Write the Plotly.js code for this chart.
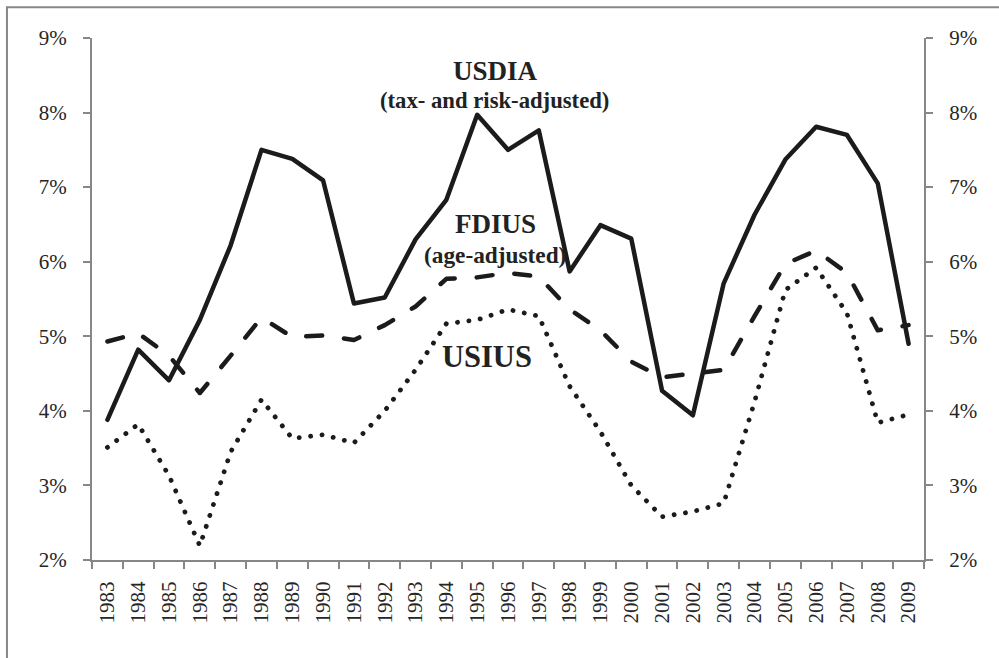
<!DOCTYPE html>
<html>
<head>
<meta charset="utf-8">
<script src="https://cdn.plot.ly/plotly-3.0.1.min.js"></script>
<style>
  html, body { margin: 0; padding: 0; background: #fff; }
  #chart { width: 999px; height: 658px; }
  .js-line { stroke-linecap: round; stroke-linejoin: round; }
</style>
</head>
<body>
<div id="chart"></div>
<script>
// ---- data ----
const years = ["1983","1984","1985","1986","1987","1988","1989","1990","1991","1992","1993","1994","1995",
               "1996","1997","1998","1999","2000","2001","2002","2003","2004","2005","2006","2007","2008","2009"];
// USDIA (tax- and risk-adjusted), percent
const usdia = [3.88, 4.82, 4.41, 5.22, 6.22, 7.50, 7.38, 7.09, 5.44, 5.52, 6.30, 6.83, 7.97,
               7.50, 7.76, 5.87, 6.49, 6.31, 4.27, 3.94, 5.71, 6.63, 7.37, 7.81, 7.70, 7.05, 4.90];
// FDIUS (age-adjusted), percent
const fdius = [4.93, 5.04, 4.74, 4.24, 4.74, 5.25, 4.99, 5.01, 4.95, 5.15, 5.40, 5.77, 5.79,
               5.85, 5.80, 5.36, 5.08, 4.66, 4.45, 4.50, 4.55, 5.27, 5.97, 6.15, 5.85, 5.08, 5.15];
// USIUS, percent
const usius = [3.51, 3.82, 3.13, 2.19, 3.45, 4.15, 3.63, 3.68, 3.57, 4.00, 4.55, 5.17, 5.22,
               5.36, 5.27, 4.33, 3.72, 3.00, 2.58, 2.65, 2.76, 4.12, 5.62, 5.92, 5.31, 3.84, 3.95];
const seriesNames = ["USDIA", "FDIUS", "USIUS"];
const yTickVals = [2, 3, 4, 5, 6, 7, 8, 9];
const yTickText = ["2%", "3%", "4%", "5%", "6%", "7%", "8%", "9%"];

const ink = "#1b1b1b";
const axisGray = "#878787";
const serif = "Liberation Serif, Times New Roman, serif";
const tickFont = { family: serif, size: 21, color: "#262626" };
const xRange = [-0.5, years.length - 0.5];

const traces = [
  { x: years, y: usdia, name: seriesNames[0], type: "scatter", mode: "lines",
    line: { color: ink, width: 4.5 }, hoverinfo: "skip" },
  { x: years, y: fdius, name: seriesNames[1], type: "scatter", mode: "lines",
    line: { color: ink, width: 4.5, dash: "16px,22px" }, hoverinfo: "skip" },
  { x: years, y: usius, name: seriesNames[2], type: "scatter", mode: "lines", xaxis: "x2", yaxis: "y2",
    line: { color: ink, width: 4.8, dash: "0.1px,11.4px" }, hoverinfo: "skip" }
];

const yAxisCommon = {
  range: [2, 9], tickmode: "array", tickvals: yTickVals, ticktext: yTickText,
  showgrid: false, zeroline: false, showline: true,
  linecolor: axisGray, linewidth: 2,
  ticks: "outside", ticklen: 7, tickwidth: 2, tickcolor: axisGray,
  tickfont: tickFont,
  ticklabelstandoff: 12
};

const layout = {
  width: 999, height: 658,
  margin: { l: 92, r: 75, t: 38, b: 98 },
  paper_bgcolor: "#fff", plot_bgcolor: "#fff",
  showlegend: false,
  // x axis: line and boundary ticks only
  xaxis: {
    type: "category", categoryorder: "array", categoryarray: years, range: xRange,
    showgrid: false, zeroline: false, showline: true,
    linecolor: axisGray, linewidth: 2,
    ticks: "outside", tickson: "boundaries", ticklen: 7, tickwidth: 2, tickcolor: axisGray,
    showticklabels: false
  },
  // overlaid x axis carrying the rotated year labels (invisible ticks set the gap)
  xaxis2: {
    type: "category", categoryorder: "array", categoryarray: years, range: xRange,
    overlaying: "x", anchor: "y", side: "bottom",
    showgrid: false, zeroline: false, showline: false,
    ticks: "outside", ticklen: 12, tickwidth: 1, tickcolor: "rgba(0,0,0,0)",
    tickangle: -90, tickfont: tickFont
  },
  yaxis: Object.assign({}, yAxisCommon, { side: "left" }),
  yaxis2: Object.assign({}, yAxisCommon, { side: "right", overlaying: "y", anchor: "x" }),
  annotations: [
    { text: "<b>USDIA</b>", xref: "paper", yref: "paper", x: 0.4844, y: 0.9368,
      xanchor: "center", yanchor: "middle", showarrow: false,
      font: { family: serif, size: 27, color: "#222" } },
    { text: "<b>(tax- and risk-adjusted)</b>", xref: "paper", yref: "paper", x: 0.4832, y: 0.8812,
      xanchor: "center", yanchor: "middle", showarrow: false,
      font: { family: serif, size: 22.7, color: "#222" } },
    { text: "<b>FDIUS</b>", xref: "paper", yref: "paper", x: 0.4844, y: 0.6437,
      xanchor: "center", yanchor: "middle", showarrow: false,
      font: { family: serif, size: 27, color: "#222" } },
    { text: "<b>(age-adjusted)</b>", xref: "paper", yref: "paper", x: 0.4844, y: 0.5843,
      xanchor: "center", yanchor: "middle", showarrow: false,
      font: { family: serif, size: 23.3, color: "#222" } },
    { text: "<b>USIUS</b>", xref: "paper", yref: "paper", x: 0.4748, y: 0.3889,
      xanchor: "center", yanchor: "middle", showarrow: false,
      font: { family: serif, size: 30.5, color: "#222" } }
  ],
  shapes: [
    { type: "line", xref: "paper", yref: "paper", x0: -0.1022, x1: -0.1022, y0: -0.3, y1: 1.0598,
      line: { color: axisGray, width: 2 } },
    { type: "line", xref: "paper", yref: "paper", x0: -0.1034, x1: 1.2, y0: 1.0588, y1: 1.0588,
      line: { color: axisGray, width: 2 } }
  ]
};

Plotly.newPlot("chart", traces, layout, { staticPlot: true, displayModeBar: false });
</script>
</body>
</html>
